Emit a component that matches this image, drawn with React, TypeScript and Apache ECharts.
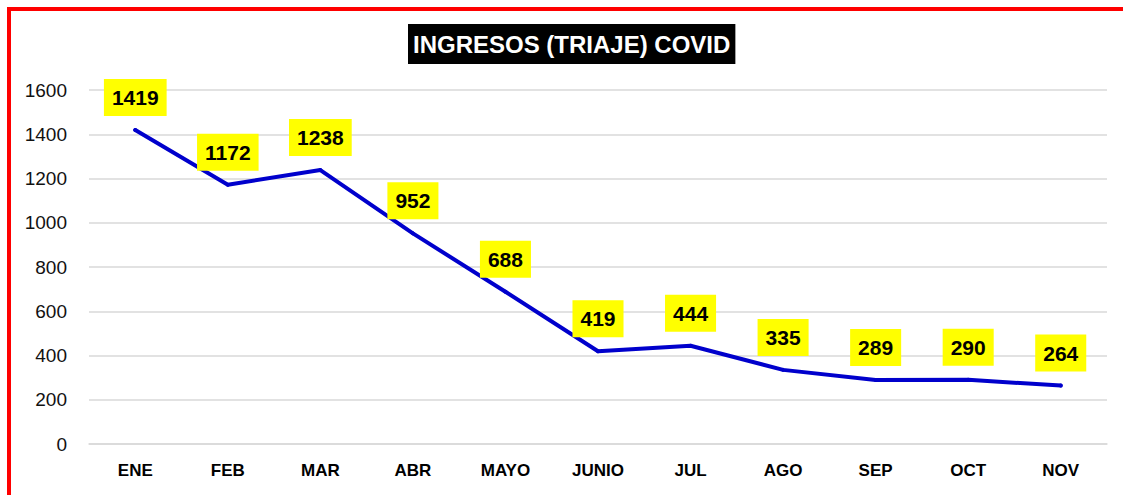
import React, { useEffect, useRef } from "react";
import * as echarts from "echarts";

const categories = ["ENE", "FEB", "MAR", "ABR", "MAYO", "JUNIO", "JUL", "AGO", "SEP", "OCT", "NOV"];
const ingresos = [1419, 1172, 1238, 952, 688, 419, 444, 335, 289, 290, 264];
const titleText = "INGRESOS (TRIAJE) COVID";

const FONT = "Arial, 'Liberation Sans', Helvetica, sans-serif";

export default function App() {
  const ref = useRef<HTMLDivElement>(null);
  useEffect(() => {
    if (!ref.current) return;
    const chart = echarts.init(ref.current, undefined, { renderer: "svg" });
    chart.setOption({
      animation: false,
      backgroundColor: "#ffffff",
      title: {
        text: titleText,
        left: 408,
        top: 24,
        padding: [8, 5],
        backgroundColor: "#000000",
        textStyle: {
          color: "#ffffff",
          fontFamily: FONT,
          fontWeight: "bold",
          fontSize: 24,
          lineHeight: 24,
        },
      },
      graphic: [
        { type: "rect", shape: { x: 7, y: 7, width: 1116, height: 4 }, style: { fill: "#ff0000" }, silent: true },
        { type: "rect", shape: { x: 7, y: 7, width: 4, height: 488 }, style: { fill: "#ff0000" }, silent: true },
      ],
      grid: { left: 89, right: 16, top: 90, bottom: 51, containLabel: false },
      xAxis: {
        type: "category",
        data: categories,
        boundaryGap: true,
        axisLine: { show: true, lineStyle: { color: "#d9d9d9", width: 1.5 } },
        axisTick: { show: false },
        axisLabel: {
          color: "#000000",
          fontFamily: FONT,
          fontWeight: "bold",
          fontSize: 17,
          margin: 18,
        },
      },
      yAxis: {
        type: "value",
        min: 0,
        max: 1600,
        interval: 200,
        axisLine: { show: false },
        axisTick: { show: false },
        splitLine: { show: true, lineStyle: { color: "#d9d9d9", width: 1.5 } },
        axisLabel: {
          color: "#111111",
          fontFamily: FONT,
          fontSize: 19,
          margin: 22,
          formatter: (v: number) => String(v),
        },
      },
      series: [
        {
          type: "line",
          data: ingresos,
          symbol: "circle",
          symbolSize: 4,
          showSymbol: true,
          lineStyle: { color: "#0000cc", width: 4, cap: "round", join: "round" },
          itemStyle: { color: "#0000cc", borderWidth: 0 },
          label: {
            show: true,
            position: "top",
            distance: 12,
            color: "#000000",
            backgroundColor: "#ffff00",
            padding: [8, 8],
            fontFamily: FONT,
            fontWeight: "bold",
            fontSize: 21,
            lineHeight: 21,
          },
        },
      ],
    });
    return () => chart.dispose();
  }, []);
  return (
    <div
      ref={ref}
      style={{ position: "absolute", left: 0, top: 0, width: 1123, height: 495 }}
    />
  );
}
